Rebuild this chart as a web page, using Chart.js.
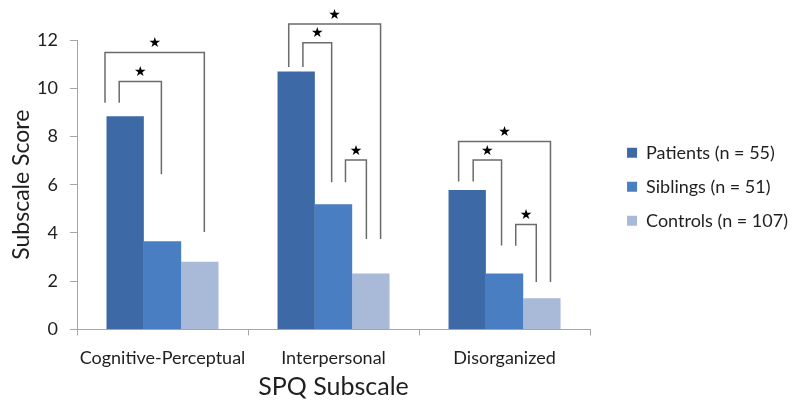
<!DOCTYPE html>
<html>
<head>
<meta charset="utf-8">
<script src="https://cdn.jsdelivr.net/npm/chart.js@4.4.0/dist/chart.umd.min.js"></script>
<style>
    html, body { margin: 0; padding: 0; background: #fff; }
    #wrap { width: 800px; height: 407px; }
</style>
</head>
<body>
<div id="wrap"><canvas id="spq"></canvas></div>
<script>
// values
let subscales = ['Cognitive-Perceptual', 'Interpersonal', 'Disorganized'];
let groupNames = ['Patients (n = 55)', 'Siblings (n = 51)', 'Controls (n = 107)'];
let patientScores = [8.84, 10.69, 5.78];
let siblingScores = [3.65, 5.19, 2.32];
let controlScores = [2.81, 2.32, 1.29];
let yTicks = [0, 2, 4, 6, 8, 10, 12];

// significance brackets: category, from group, to group, bar top, leg ends (score units)
let bracketCategory = [0, 0, 1, 1, 1, 2, 2, 2];
let bracketFrom = [0, 0, 0, 0, 1, 0, 0, 1];
let bracketTo = [2, 1, 2, 1, 2, 2, 1, 2];
let bracketTop = [11.48, 10.28, 12.66, 11.89, 7.02, 7.79, 7.02, 4.35];
let bracketLeftEnd = [9.4, 9.4, 10.88, 10.88, 6.1, 6.13, 6.13, 3.47];
let bracketRightEnd = [4.04, 6.43, 3.75, 6.1, 3.75, 1.97, 3.48, 1.97];

// where each leg sits on its bar, as a share of the bar width
let legShiftLeft = [-0.54, -0.16, -0.2, 0.18, 0.32, -0.23, 0.16, 0.3];
let legShiftRight = [0.12, -0.03, 0.26, -0.05, -0.12, 0.23, -0.08, -0.15];

let barColors = ['#3d6aa6', '#4a7ec3', '#a9bad9'];
let textColor = '#1f1f1f';
let fontFamily = 'Lato, "Noto Sans", sans-serif';

const bracketPlugin = {
    id: 'brackets',
    afterDatasetsDraw(chart) {
        let ctx = chart.ctx;
        let y = chart.scales.y;
        ctx.save();
        ctx.strokeStyle = '#6b6b6b';
        ctx.lineWidth = 1.5;
        ctx.fillStyle = '#000';
        ctx.font = '14px "DejaVu Sans"';
        ctx.textAlign = 'center';
        ctx.textBaseline = 'middle';
        for (let i = 0; i < bracketCategory.length; i++) {
            let c = bracketCategory[i];
            let barA = chart.getDatasetMeta(bracketFrom[i]).data[c];
            let barB = chart.getDatasetMeta(bracketTo[i]).data[c];
            let xA = barA.x + legShiftLeft[i] * barA.width;
            let xB = barB.x + legShiftRight[i] * barB.width;
            let yTop = y.getPixelForValue(bracketTop[i]);
            ctx.beginPath();
            ctx.moveTo(xA, y.getPixelForValue(bracketLeftEnd[i]));
            ctx.lineTo(xA, yTop);
            ctx.lineTo(xB, yTop);
            ctx.lineTo(xB, y.getPixelForValue(bracketRightEnd[i]));
            ctx.stroke();
            ctx.fillText('\u2605', (xA + xB) / 2, yTop - 9);
        }
        ctx.restore();
    }
};

// centre the legend on the plot area and push it a little right
const legendPlacePlugin = {
    id: 'legendPlace',
    afterLayout(chart) {
        let lg = chart.legend;
        let area = chart.chartArea;
        lg.top = area.top;
        lg.bottom = area.bottom + 4;
        lg.height = lg.bottom - lg.top;
        lg.left += 21;
        lg.right += 21;
    }
};

let series = [patientScores, siblingScores, controlScores];
let datasets = [];
for (let i = 0; i < series.length; i++) {
    datasets.push({
        label: groupNames[i],
        data: series[i],
        backgroundColor: barColors[i],
        borderWidth: 0,
        categoryPercentage: 0.655,
        barPercentage: 1.0
    });
}

new Chart(document.getElementById('spq'), {
    type: 'bar',
    data: { labels: subscales, datasets: datasets },
    plugins: [bracketPlugin, legendPlacePlugin],
    options: {
        responsive: true,
        maintainAspectRatio: false,
        animation: false,
        layout: { padding: { top: 40, right: 23, bottom: 1, left: 4 } },
        plugins: {
            legend: {
                position: 'right',
                labels: {
                    boxWidth: 10,
                    boxHeight: 10,
                    padding: 16,
                    color: textColor,
                    font: { family: fontFamily, size: 18 }
                }
            },
            tooltip: { enabled: false }
        },
        scales: {
            x: {
                grid: {
                    drawOnChartArea: false,
                    drawTicks: true,
                    tickLength: 6,
                    color: '#a6a6a6'
                },
                border: { color: '#a6a6a6' },
                ticks: {
                    color: textColor,
                    font: { family: fontFamily, size: 18 },
                    padding: 12,
                    maxRotation: 0,
                    minRotation: 0,
                    autoSkip: false
                },
                title: {
                    display: true,
                    text: 'SPQ Subscale',
                    color: textColor,
                    font: { family: fontFamily, size: 25 },
                    padding: { top: -9, bottom: 4 }
                }
            },
            y: {
                min: 0,
                max: 12,
                afterBuildTicks(axis) {
                    axis.ticks = yTicks.map(function(v) { return { value: v }; });
                },
                afterFit(axis) {
                    axis.width = 73;
                },
                grid: {
                    drawOnChartArea: false,
                    drawTicks: true,
                    tickLength: 7,
                    color: '#a6a6a6'
                },
                border: { color: '#a6a6a6' },
                ticks: { color: textColor, font: { family: fontFamily, size: 18 }, padding: 12 },
                title: {
                    display: true,
                    text: 'Subscale Score',
                    color: textColor,
                    font: { family: fontFamily, size: 23 },
                    padding: { bottom: 4 }
                }
            }
        }
    }
});
</script>
</body>
</html>
